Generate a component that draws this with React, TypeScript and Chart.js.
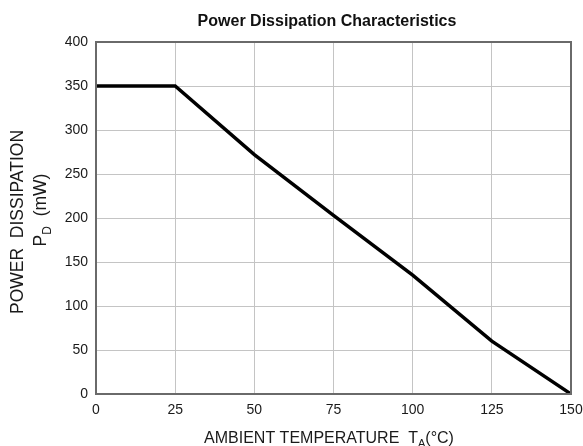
import React, { useEffect, useRef } from "react";
import { Chart, registerables } from "chart.js";

Chart.register(...registerables);

const temperatures = [0, 25, 50, 75, 100, 125, 150];
const powerMw = [350, 350, 272, 203, 135, 60, 0];
const xTicks = [0, 25, 50, 75, 100, 125, 150];
const yTicks = [0, 50, 100, 150, 200, 250, 300, 350, 400];

const chartTitle = "Power Dissipation Characteristics";
const yTitleLine1 = "POWER  DISSIPATION";
const yTitleMain = "P";
const yTitleSub = "D";
const yTitleRest = "  (mW)";
const xTitleMain = "AMBIENT TEMPERATURE  T";
const xTitleSub = "A";
const xTitleRest = "(°C)";

const FONT = "'Liberation Sans', Arial, sans-serif";
const TEXT = "#1a1a1a";

const framePlugin = {
  id: "frameAndTitles",
  afterDraw(chart: any) {
    const { ctx, chartArea } = chart;
    const { left, right, top, bottom } = chartArea;
    ctx.save();
    ctx.strokeStyle = "#6a6a6a";
    ctx.lineWidth = 2;
    ctx.strokeRect(left, top, right - left, bottom - top);

    // main title
    ctx.fillStyle = "#111";
    ctx.textBaseline = "alphabetic";
    ctx.textAlign = "center";
    ctx.font = `bold 16px ${FONT}`;
    ctx.fillText(chartTitle, 327, 26);

    ctx.fillStyle = TEXT;
    // x title
    const big = `16px ${FONT}`;
    const small = `11px ${FONT}`;
    ctx.font = big;
    const w1 = ctx.measureText(xTitleMain).width;
    const w3 = ctx.measureText(xTitleRest).width;
    ctx.font = small;
    const w2 = ctx.measureText(xTitleSub).width;
    const total = w1 + w2 + w3;
    let x = 329 - total / 2;
    const base = 443;
    ctx.textAlign = "left";
    ctx.font = big;
    ctx.fillText(xTitleMain, x, base);
    x += w1;
    ctx.font = small;
    ctx.fillText(xTitleSub, x, base + 4);
    x += w2;
    ctx.font = big;
    ctx.fillText(xTitleRest, x, base);

    // y title
    const yBig = `17.5px ${FONT}`;
    const ySmall = `12px ${FONT}`;
    ctx.translate(0, 222);
    ctx.rotate(-Math.PI / 2);
    ctx.textAlign = "center";
    ctx.font = yBig;
    ctx.fillText(yTitleLine1, 0, 23);
    const a1 = ctx.measureText(yTitleMain).width;
    const a3 = ctx.measureText(yTitleRest).width;
    ctx.font = ySmall;
    const a2 = ctx.measureText(yTitleSub).width;
    let yx = 12 - (a1 + a2 + a3) / 2;
    ctx.textAlign = "left";
    ctx.font = yBig;
    ctx.fillText(yTitleMain, yx, 46);
    yx += a1;
    ctx.font = ySmall;
    ctx.fillText(yTitleSub, yx, 51);
    yx += a2;
    ctx.font = yBig;
    ctx.fillText(yTitleRest, yx, 46);
    ctx.restore();
  },
};

export default function App() {
  const ref = useRef<HTMLCanvasElement>(null);
  useEffect(() => {
    const canvas = ref.current;
    if (!canvas) return;
    const chart = new Chart(canvas, {
      type: "line",
      data: {
        datasets: [
          {
            data: temperatures.map((t, i) => ({ x: t, y: powerMw[i] })),
            borderColor: "#000000",
            borderWidth: 3.5,
            pointRadius: 0,
            tension: 0,
            fill: false,
          },
        ],
      },
      options: {
        responsive: false,
        animation: false,
        layout: { padding: { left: 0, right: 12, top: 42, bottom: 0 } },
        plugins: {
          legend: { display: false },
          tooltip: { enabled: false },
          title: { display: false },
        },
        scales: {
          x: {
            type: "linear",
            min: 0,
            max: 150,
            afterBuildTicks: (s: any) => {
              s.ticks = xTicks.map((v) => ({ value: v }));
            },
            afterFit: (s: any) => {
              s.height = 52;
              s.paddingLeft = 0;
              s.paddingRight = 0;
            },
            grid: { color: "#c4c4c4", lineWidth: 1, drawTicks: false },
            border: { display: false },
            ticks: {
              color: TEXT,
              padding: 8,
              maxRotation: 0,
              font: { family: FONT, size: 14 },
            },
          },
          y: {
            type: "linear",
            min: 0,
            max: 400,
            afterBuildTicks: (s: any) => {
              s.ticks = yTicks.map((v) => ({ value: v }));
            },
            afterFit: (s: any) => {
              s.width = 96;
              s.paddingTop = 0;
              s.paddingBottom = 0;
            },
            grid: { color: "#c4c4c4", lineWidth: 1, drawTicks: false },
            border: { display: false },
            ticks: {
              color: TEXT,
              padding: 8,
              font: { family: FONT, size: 14 },
            },
          },
        },
      },
      plugins: [framePlugin],
    });
    return () => chart.destroy();
  }, []);
  return (
    <div style={{ position: "fixed", left: 0, top: 0, width: 583, height: 446, background: "#fff" }}>
      <canvas ref={ref} width={583} height={446} style={{ display: "block" }} />
    </div>
  );
}
